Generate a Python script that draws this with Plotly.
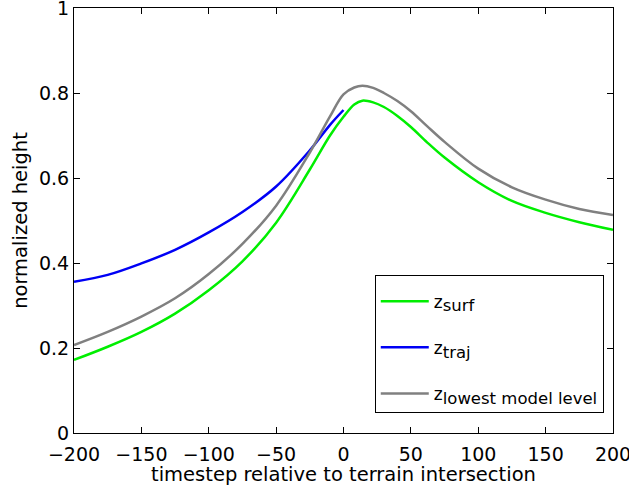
import plotly.graph_objects as go

x_full = [-200, -175, -150, -125, -100, -75, -50, -25, -10, 0, 8, 14, 22, 30, 40, 50, 62, 75, 100, 125, 150, 175, 200]
z_surf = [0.172, 0.203, 0.238, 0.281, 0.336, 0.404, 0.495, 0.620, 0.700, 0.744, 0.773, 0.782, 0.778, 0.767, 0.746, 0.720, 0.684, 0.648, 0.590, 0.546, 0.518, 0.496, 0.478]
z_lowest = [0.207, 0.238, 0.274, 0.317, 0.374, 0.445, 0.535, 0.660, 0.745, 0.797, 0.813, 0.817, 0.812, 0.800, 0.781, 0.757, 0.722, 0.685, 0.622, 0.578, 0.549, 0.527, 0.513]
x_traj = [-200, -175, -150, -125, -100, -75, -50, -25, -10, 0]
z_traj = [0.356, 0.372, 0.399, 0.431, 0.472, 0.520, 0.580, 0.665, 0.725, 0.760]

x_ticks = [-200, -150, -100, -50, 0, 50, 100, 150, 200]
y_ticks = [0, 0.2, 0.4, 0.6, 0.8, 1]

SUB = "<sub><span style='font-size:16.5px'>%s</span></sub>"
names = ["z" + SUB % "surf", "z" + SUB % "traj", "z" + SUB % "lowest model level"]

fig = go.Figure()
fig.add_trace(go.Scatter(x=x_full, y=z_surf, mode="lines", name=names[0], legendgroup="a",
                         line=dict(color="#00ee00", width=2.5, shape="spline", smoothing=1)))
fig.add_trace(go.Scatter(x=x_traj, y=z_traj, mode="lines", name=names[1], legendgroup="b",
                         line=dict(color="#0000f5", width=2.5, shape="spline", smoothing=1)))
fig.add_trace(go.Scatter(x=x_full, y=z_lowest, mode="lines", name=names[2], legendgroup="c",
                         line=dict(color="#808080", width=2.5, shape="spline", smoothing=1)))

FONT = "DejaVu Sans, Liberation Sans, Arial, sans-serif"

axis_common = dict(showline=True, linecolor="black", linewidth=1, mirror="ticks",
                   ticks="inside", ticklen=6, tickcolor="black", showgrid=False, zeroline=False,
                   ticklabeloverflow="allow", automargin=False,
                   tickfont=dict(size=19, color="black", family=FONT))

fig.update_xaxes(range=[-200, 200], tickvals=x_ticks, ticklabelstandoff=4,
                 title=dict(text="timestep relative to terrain intersection",
                            font=dict(size=19.5, color="black", family=FONT), standoff=7),
                 **axis_common)
fig.update_yaxes(range=[0, 1], tickvals=y_ticks,
                 title=dict(text="normalized height",
                            font=dict(size=19.5, color="black", family=FONT), standoff=6),
                 **axis_common)

fig.update_layout(
    width=629, height=486,
    margin=dict(l=74, r=16, t=8, b=53),
    paper_bgcolor="white", plot_bgcolor="white",
    font=dict(family=FONT, color="black"),
    legend=dict(x=0.558, y=0.372, xanchor="left", yanchor="top",
                bordercolor="black", borderwidth=1, bgcolor="white",
                font=dict(size=17, color="black", family=FONT), tracegroupgap=21,
                title=dict(text=" ", font=dict(size=6)),
                itemwidth=48),
    showlegend=True,
)

fig.write_html("out.html")
